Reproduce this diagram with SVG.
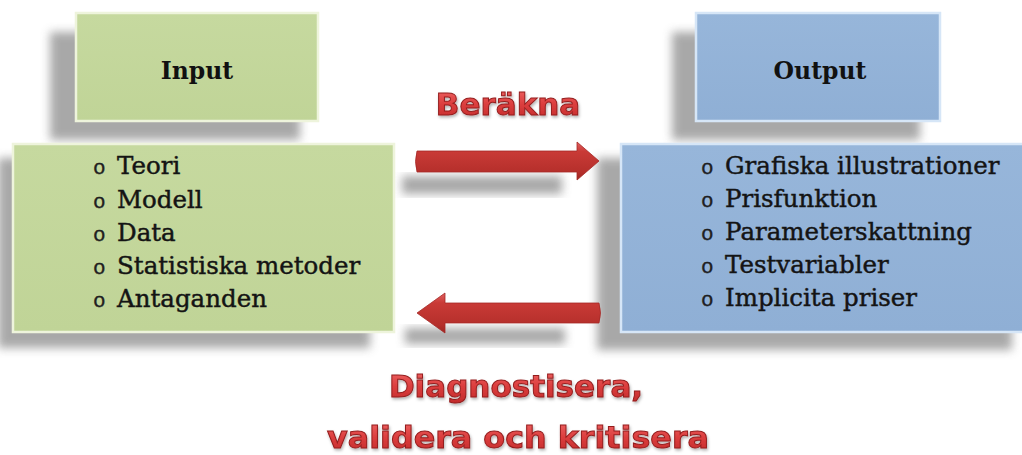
<svg xmlns="http://www.w3.org/2000/svg" width="1022" height="455" viewBox="0 0 1022 455">
<defs>
<filter id="sh" x="-20%" y="-20%" width="140%" height="140%"><feGaussianBlur stdDeviation="5"/></filter>
<filter id="tsh" x="-10%" y="-30%" width="120%" height="160%">
<feGaussianBlur in="SourceAlpha" stdDeviation="1.5"/><feOffset dx="1" dy="2" result="b"/>
<feFlood flood-color="#000" flood-opacity="0.3"/><feComposite in2="b" operator="in"/>
<feMerge><feMergeNode/><feMergeNode in="SourceGraphic"/></feMerge>
</filter>
<linearGradient id="red" x1="0" y1="0" x2="0" y2="1">
<stop offset="0" stop-color="#f06a6a"/><stop offset="0.5" stop-color="#dc3e3e"/><stop offset="1" stop-color="#c02a2a"/>
</linearGradient>
<linearGradient id="arr" x1="0" y1="0" x2="0" y2="1">
<stop offset="0" stop-color="#e06060"/><stop offset="0.25" stop-color="#c93a36"/><stop offset="0.8" stop-color="#b52f2b"/><stop offset="1" stop-color="#9e2522"/>
</linearGradient>
<linearGradient id="gfill" x1="0" y1="0" x2="0" y2="1">
<stop offset="0" stop-color="#c6d99f"/><stop offset="1" stop-color="#c0d497"/>
</linearGradient>
<linearGradient id="bfill" x1="0" y1="0" x2="0" y2="1">
<stop offset="0" stop-color="#97b6da"/><stop offset="1" stop-color="#8fafd5"/>
</linearGradient>
</defs>
<style>
.shadow{fill:#8c8c8c;opacity:0.75;filter:url(#sh)}
.green{fill:url(#gfill);stroke:#eef4dc;stroke-width:2.5}
.blue{fill:url(#bfill);stroke:#d6e6f7;stroke-width:2.5}
.hdr{font-family:"DejaVu Serif",serif;font-weight:bold;font-size:23.5px;fill:#111;text-anchor:middle}
.item{font-family:"DejaVu Serif",serif;font-size:24.5px;fill:#141414;stroke:#141414;stroke-width:0.45}
.bul{font-family:"Liberation Mono",monospace;font-size:21px;fill:#222;stroke-width:0.3}
.lbl{font-family:"DejaVu Sans",sans-serif;font-weight:bold;font-size:31px;fill:url(#red);stroke:#931c1c;stroke-width:1;text-anchor:middle;filter:url(#tsh)}
.arrow{fill:url(#arr);stroke:#a52a27;stroke-width:0.8}
</style>

<g id="shadows">
<rect class="shadow" x="50" y="32" width="250" height="108"/>
<rect class="shadow" x="-2" y="158" width="372" height="190"/>
<rect class="shadow" x="672" y="32" width="248" height="108"/>
<rect class="shadow" x="597" y="158" width="415" height="192"/>
<rect class="shadow" x="402" y="176" width="160" height="18"/>
<rect class="shadow" x="405" y="328" width="160" height="16"/>
</g>

<g id="input-header">
<rect class="green" x="76" y="13" width="242" height="108"/>
<text class="hdr" x="197" y="79">Input</text>
</g>

<g id="input-body">
<rect class="green" x="13" y="144" width="381" height="188"/>
<text class="item" y="174"><tspan class="bul" x="93">o</tspan><tspan x="117">Teori</tspan></text>
<text class="item" y="207.5"><tspan class="bul" x="93">o</tspan><tspan x="117">Modell</tspan></text>
<text class="item" y="240.5"><tspan class="bul" x="93">o</tspan><tspan x="117">Data</tspan></text>
<text class="item" y="274"><tspan class="bul" x="93">o</tspan><tspan x="117">Statistiska metoder</tspan></text>
<text class="item" y="307"><tspan class="bul" x="93">o</tspan><tspan x="117">Antaganden</tspan></text>
</g>

<g id="output-header">
<rect class="blue" x="696" y="13" width="244" height="108"/>
<text class="hdr" x="820" y="79">Output</text>
</g>

<g id="output-body">
<rect class="blue" x="621" y="144" width="404" height="188"/>
<text class="item" y="174"><tspan class="bul" x="701">o</tspan><tspan x="725">Grafiska illustrationer</tspan></text>
<text class="item" y="207"><tspan class="bul" x="701">o</tspan><tspan x="725">Prisfunktion</tspan></text>
<text class="item" y="240"><tspan class="bul" x="701">o</tspan><tspan x="725">Parameterskattning</tspan></text>
<text class="item" y="273"><tspan class="bul" x="701">o</tspan><tspan x="725">Testvariabler</tspan></text>
<text class="item" y="306"><tspan class="bul" x="701">o</tspan><tspan x="725">Implicita priser</tspan></text>
</g>

<g id="connectors">
<path class="arrow" d="M417,151 L577,151 L577,142 L599,161 L577,180 L577,172 L417,172 Q414,161.5 417,151 Z"/>
<path class="arrow" d="M599,303 L445,303 L445,293 L417,313 L445,333 L445,323 L599,323 Q602,313 599,303 Z"/>
</g>

<g id="labels">
<text class="lbl" x="508" y="115">Beräkna</text>
<text class="lbl" x="516" y="397">Diagnostisera,</text>
<text class="lbl" x="518" y="448" textLength="382" lengthAdjust="spacingAndGlyphs">validera och kritisera</text>
</g>
</svg>
